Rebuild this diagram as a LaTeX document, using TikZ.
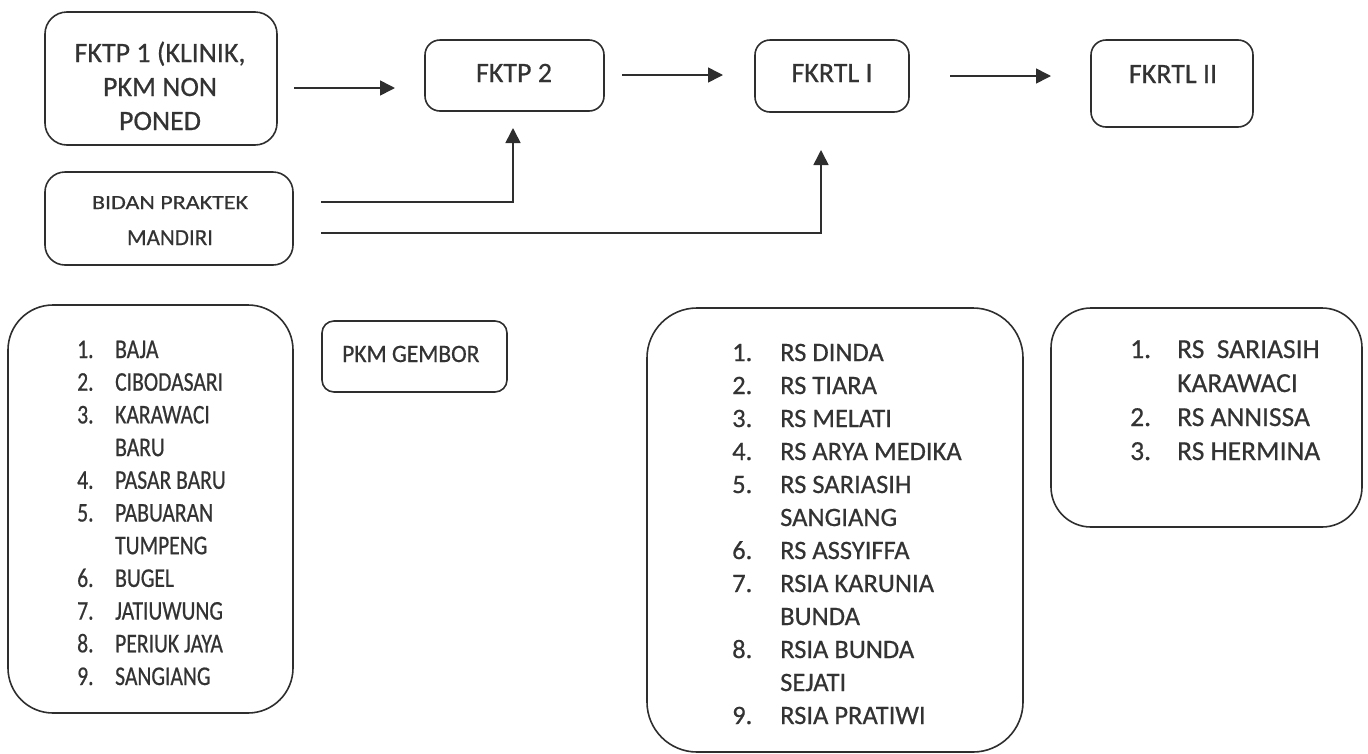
\documentclass[tikz,border=0pt]{standalone}
\usepackage{fontspec}
\setmainfont{Carlito}[FakeBold=0.6]
\newfontfamily\narrowfont{Carlito}[FakeStretch=0.8,FakeBold=0.6]
\newfontfamily\gemfont{Carlito}[FakeStretch=0.94,FakeBold=0.6]
\newfontfamily\widefont{Carlito}[FakeStretch=1.2,FakeBold=0.5]
\usetikzlibrary{arrows.meta}
\definecolor{ink}{HTML}{2E2E2E}
\definecolor{txt}{HTML}{333333}
\tikzset{
  box/.style={draw=ink, line width=1.6pt, rectangle, inner sep=0pt},
  lbl/.style={inner sep=0pt, text=txt, anchor=base},
  lst/.style={inner sep=0pt, text=txt, anchor=base west},
  conn/.style={draw=ink, line width=1.6pt},
  arr/.style={conn, -{Triangle[length=15pt,width=15pt]}}
}
\begin{document}
\begin{tikzpicture}[x=1pt,y=-1pt]
\useasboundingbox (0,0) rectangle (1368,753);
% top boxes
\node[box, minimum width=232pt, minimum height=133pt, rounded corners=22pt] (fktp1) at (161,78.5) {};
\node[box, minimum width=248pt, minimum height=93pt, rounded corners=20pt] (bidan) at (169,218.5) {};
\node[box, minimum width=179pt, minimum height=71pt, rounded corners=15pt] (fktp2) at (514.5,75.5) {};
\node[box, minimum width=154pt, minimum height=72pt, rounded corners=15pt] (fkrtl1) at (832,76) {};
\node[box, minimum width=162pt, minimum height=87pt, rounded corners=15pt] (fkrtl2) at (1172,83.5) {};
% bottom boxes
\node[box, minimum width=285pt, minimum height=408pt, rounded corners=45pt] (lbox) at (150.5,509) {};
\node[box, minimum width=185pt, minimum height=71pt, rounded corners=12pt] (pkm) at (414.5,356.5) {};
\node[box, minimum width=376pt, minimum height=444pt, rounded corners=50pt] (mbox) at (835,530) {};
\node[box, minimum width=311pt, minimum height=219pt, rounded corners=40pt] (rbox) at (1206.5,417.5) {};
% labels
\node[lbl, font=\fontsize{28}{34}\selectfont] (t1a) at (160,62) {FKTP 1 (KLINIK,};
\node[lbl, font=\fontsize{28}{34}\selectfont] (t1b) at (160,96) {PKM NON};
\node[lbl, font=\fontsize{28}{34}\selectfont] (t1c) at (160,130) {PONED};
\node[lbl, font=\widefont\fontsize{20}{24}\selectfont] (tba) at (170,209) {BIDAN PRAKTEK};
\node[lbl, font=\fontsize{23}{28}\selectfont] (tbb) at (170,245) {MANDIRI};
\node[lbl, font=\fontsize{28}{34}\selectfont] (t2) at (514,82) {FKTP 2};
\node[lbl, font=\fontsize{28}{34}\selectfont] (t3) at (832,82) {FKRTL I};
\node[lbl, font=\fontsize{28}{34}\selectfont] (t4) at (1173,83) {FKRTL II};
\node[lst, font=\gemfont\fontsize{25}{30}\selectfont] (tp) at (342,362) {PKM GEMBOR};
% lists
\node[lst] (ll) at (77,358) {\narrowfont\fontsize{27}{32.7}\selectfont
\begin{tabular}[t]{@{}p{38pt}@{}l@{}}
1. & BAJA\\
2. & CIBODASARI\\
3. & KARAWACI\\
   & BARU\\
4. & PASAR BARU\\
5. & PABUARAN\\
   & TUMPENG\\
6. & BUGEL\\
7. & JATIUWUNG\\
8. & PERIUK JAYA\\
9. & SANGIANG
\end{tabular}};
\node[lst] (ml) at (732,361) {\fontsize{26.5}{33}\selectfont
\begin{tabular}[t]{@{}p{48pt}@{}l@{}}
1. & RS DINDA\\
2. & RS TIARA\\
3. & RS MELATI\\
4. & RS ARYA MEDIKA\\
5. & RS SARIASIH\\
   & SANGIANG\\
6. & RS ASSYIFFA\\
7. & RSIA KARUNIA\\
   & BUNDA\\
8. & RSIA BUNDA\\
   & SEJATI\\
9. & RSIA PRATIWI
\end{tabular}};
\node[lst] (rl) at (1130,358) {\fontsize{27.5}{34}\selectfont
\begin{tabular}[t]{@{}p{47pt}@{}l@{}}
1. & RS\ \ SARIASIH\\
   & KARAWACI\\
2. & RS ANNISSA\\
3. & RS HERMINA
\end{tabular}};
% connector coordinates
\coordinate (a1s) at (294,88);
\coordinate (a1e) at (395,88);
\coordinate (a2s) at (622,75);
\coordinate (a2e) at (723,75);
\coordinate (a3s) at (950,76);
\coordinate (a3e) at (1051,76);
\coordinate (b1s) at (321,202);
\coordinate (b1e) at (513,128);
\coordinate (b2s) at (321,233);
\coordinate (b2e) at (821,150);
% connectors
\draw[arr] (a1s) -- (a1e);
\draw[arr] (a2s) -- (a2e);
\draw[arr] (a3s) -- (a3e);
\draw[arr] (b1s) -| (b1e);
\draw[arr] (b2s) -| (b2e);
\end{tikzpicture}
\end{document}
